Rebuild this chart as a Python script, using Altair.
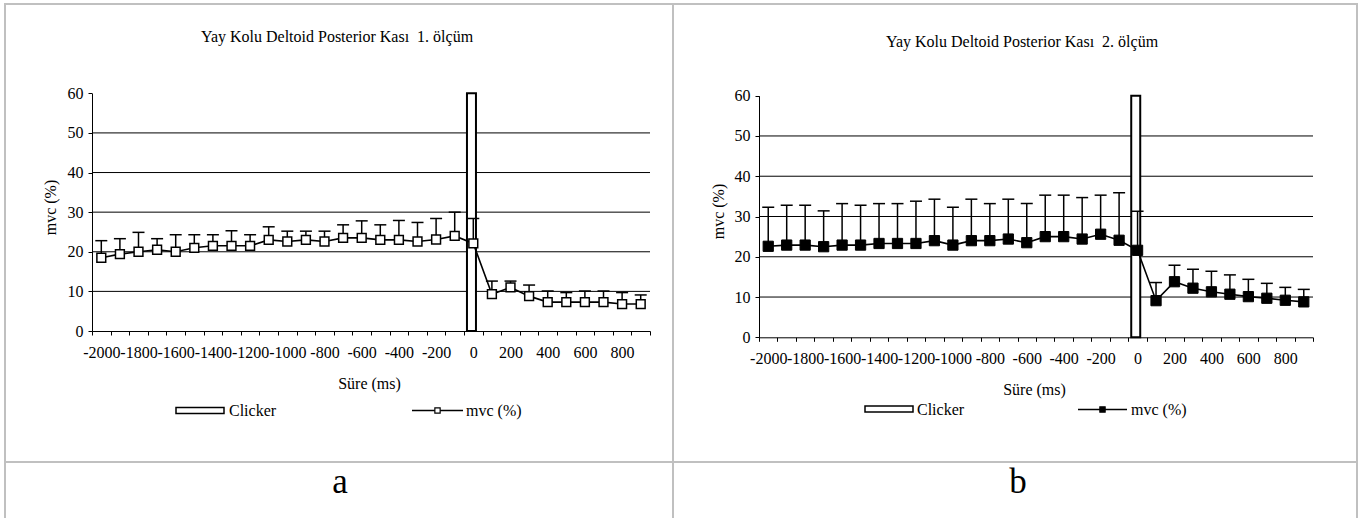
import altair as alt
import pandas as pd

# ---------------- data ----------------
times = [-2000, -1900, -1800, -1700, -1600, -1500, -1400, -1300, -1200, -1100,
         -1000, -900, -800, -700, -600, -500, -400, -300, -200, -100,
         0, 100, 200, 300, 400, 500, 600, 700, 800, 900]

a_mean = [18.5, 19.4, 20.0, 20.5, 20.0, 21.0, 21.5, 21.5, 21.5, 23.0,
          22.6, 23.0, 22.6, 23.5, 23.5, 23.0, 23.0, 22.6, 23.1, 24.0,
          22.1, 9.3, 11.0, 8.8, 7.3, 7.3, 7.3, 7.3, 6.8, 6.8]
a_upper = [22.8, 23.3, 24.9, 23.3, 24.3, 24.3, 24.3, 25.3, 24.3, 26.3,
           25.2, 25.2, 25.2, 26.8, 27.8, 26.8, 27.9, 27.4, 28.4, 30.0,
           28.4, 12.6, 12.6, 11.6, 10.1, 9.7, 10.1, 10.1, 9.7, 9.1]

b_mean = [22.6, 22.9, 22.9, 22.5, 22.9, 22.9, 23.3, 23.3, 23.3, 24.0,
          22.9, 24.0, 24.0, 24.4, 23.5, 25.0, 25.0, 24.4, 25.6, 24.1,
          21.6, 9.1, 13.8, 12.2, 11.3, 10.7, 10.1, 9.7, 9.2, 8.8]
b_upper = [32.3, 32.8, 32.8, 31.4, 33.2, 32.8, 33.2, 33.2, 33.8, 34.3,
           32.3, 34.3, 33.2, 34.3, 33.2, 35.3, 35.3, 34.7, 35.3, 35.9,
           31.3, 13.6, 17.9, 16.9, 16.4, 15.5, 14.4, 13.4, 12.4, 11.9]

clicker_time = [0]
clicker_value = [60]

x_bounds = [-2050, -1950, -1850, -1750, -1650, -1550, -1450, -1350, -1250, -1150,
            -1050, -950, -850, -750, -650, -550, -450, -350, -250, -150,
            -50, 50, 150, 250, 350, 450, 550, 650, 750, 850, 950]
x_label_values = [-2000, -1800, -1600, -1400, -1200, -1000, -800, -600, -400, -200,
                  0, 200, 400, 600, 800]
y_ticks = [0, 10, 20, 30, 40, 50, 60]
grid_values = [10, 20, 30, 40, 50]

titles = ["Yay Kolu Deltoid Posterior Kası \u00a01. ölçüm",
          "Yay Kolu Deltoid Posterior Kası \u00a02. ölçüm"]
panel_letters = ["a", "b"]

FONT = "Liberation Serif"
W, H = 1367, 518
BORDER = "#c0c0c0"
FS = 16


def blank():
    return alt.Chart(alt.InlineData(values=[{}]))


def panel(mean, upper, xr, yr, filled, x_title_x, y_title_y, y_title_x):
    df = pd.DataFrame({"t": times, "mvc": mean, "up": upper})
    xs = alt.Scale(domain=[x_bounds[0], x_bounds[-1]], range=xr, nice=False, zero=False)
    ys = alt.Scale(domain=[y_ticks[0], y_ticks[-1]], range=yr, nice=False, zero=True)
    cat_px = (xr[1] - xr[0]) / (len(x_bounds) - 1)
    arr = "[" + ",".join(str(v) for v in x_label_values) + "]"
    label_expr = f"indexof({arr}, datum.value + 50) >= 0 ? '' + (datum.value + 50) : ''"

    x_axis = alt.Axis(
        orient="bottom", offset=yr[0] - H, values=x_bounds, labelExpr=label_expr,
        labelOffset=cat_px / 2, grid=False, domainColor="black", domainWidth=1,
        tickColor="black", tickSize=4, tickWidth=1, labelColor="black", labelFont=FONT,
        labelFontSize=FS, labelPadding=9, labelFlush=False, labelOverlap=False,
        title="Süre (ms)", titleFont=FONT, titleFontSize=FS, titleFontWeight="normal",
        titleColor="black", titleX=x_title_x, titleY=52, titleBaseline="middle",
        titleAlign="center",
    )
    y_axis = alt.Axis(
        orient="left", offset=-xr[0], values=y_ticks, grid=False, domainColor="black",
        domainWidth=1, tickColor="black", tickSize=4, tickWidth=1, labelColor="black",
        labelFont=FONT, labelFontSize=FS, labelPadding=5, labelFlush=False,
        labelOverlap=False, format="d",
        title="mvc (%)", titleFont=FONT, titleFontSize=FS, titleFontWeight="normal",
        titleColor="black", titleAngle=270, titleX=y_title_x, titleY=y_title_y,
        titleBaseline="middle", titleAlign="center",
    )

    grid = alt.Chart(pd.DataFrame({"g": grid_values})).mark_rule(
        color="black", strokeWidth=1, opacity=1
    ).encode(
        y=alt.Y("g:Q", scale=ys, axis=None),
        x=alt.X(datum=x_bounds[0], scale=xs, axis=None),
        x2=alt.X2(datum=x_bounds[-1]),
    )
    bar = alt.Chart(pd.DataFrame({"t": clicker_time, "v": clicker_value})).mark_bar(
        size=9, fill="white", stroke="black", strokeWidth=2, opacity=1
    ).encode(
        x=alt.X("t:Q", scale=xs, axis=None),
        y=alt.Y("v:Q", scale=ys, axis=None),
    )
    base = alt.Chart(df)
    err = base.mark_rule(color="black", strokeWidth=1.5, opacity=1).encode(
        x=alt.X("t:Q", scale=xs, axis=None),
        y=alt.Y("mvc:Q", scale=ys, axis=None),
        y2="up:Q",
    )
    caps = base.mark_tick(orient="horizontal", size=12, thickness=1.5,
                          color="black", opacity=1).encode(
        x=alt.X("t:Q", scale=xs, axis=None),
        y=alt.Y("up:Q", scale=ys, axis=None),
    )
    line = base.mark_line(color="black", strokeWidth=1.6, opacity=1).encode(
        x=alt.X("t:Q", scale=xs, axis=x_axis),
        y=alt.Y("mvc:Q", scale=ys, axis=y_axis),
    )
    if filled:
        pts = base.mark_point(shape="square", size=105, filled=True, fill="black",
                              stroke="black", strokeWidth=1, opacity=1)
    else:
        pts = base.mark_point(shape="square", size=78, filled=True, fill="white",
                              stroke="black", strokeWidth=1.5, opacity=1)
    pts = pts.encode(
        x=alt.X("t:Q", scale=xs, axis=None),
        y=alt.Y("mvc:Q", scale=ys, axis=None),
    )
    return [grid, bar, err, caps, line, pts]


def text(s, x, y, size=FS, align="center", baseline="middle"):
    return blank().mark_text(text=s, font=FONT, fontSize=size, color="black",
                             align=align, baseline=baseline).encode(
        x=alt.value(x), y=alt.value(y))


def hrule(x1, x2, y, color=BORDER, w=2):
    return blank().mark_rule(color=color, strokeWidth=w).encode(
        x=alt.value(x1), x2=alt.value(x2), y=alt.value(y))


def vrule(x, y1, y2, color=BORDER, w=2):
    return blank().mark_rule(color=color, strokeWidth=w).encode(
        x=alt.value(x), y=alt.value(y1), y2=alt.value(y2))


def legend(rect_x, rect_y, clicker_x, line_x, line_y, mvc_x, filled):
    rect = blank().mark_rect(fill="white", stroke="black", strokeWidth=1.5).encode(
        x=alt.value(rect_x[0]), x2=alt.value(rect_x[1]),
        y=alt.value(rect_y[0]), y2=alt.value(rect_y[1]))
    ln = hrule(line_x[0], line_x[1], line_y, color="black", w=1.5)
    sq = blank().mark_point(shape="square", size=28, filled=True,
                            fill="black" if filled else "white", stroke="black",
                            strokeWidth=1.2, opacity=1).encode(
        x=alt.value((line_x[0] + line_x[1]) / 2), y=alt.value(line_y))
    t1 = text("Clicker", clicker_x, (rect_y[0] + rect_y[1]) / 2 + 0.5, align="left")
    t2 = text("mvc (%)", mvc_x, line_y + 0.5, align="left")
    return [rect, ln, sq, t1, t2]


borders = [
    hrule(4, 1358, 4),
    hrule(5, 1358, 462),
    vrule(5, 4, H),
    vrule(673, 4, H),
    vrule(1357, 4, H),
]

panel_a = panel(a_mean, a_upper, [92, 650], [331, 93.3], False, 369, 207, -42)
panel_b = panel(b_mean, b_upper, [759, 1313], [337.3, 95.7], True, 1034, 211, -41)

decor = [
    text(titles[0], 337, 42, size=16, baseline="alphabetic"),
    text(titles[1], 1022, 47, size=16, baseline="alphabetic"),
    text(panel_letters[0], 340, 493, size=35, baseline="alphabetic"),
    text(panel_letters[1], 1018, 493, size=35, baseline="alphabetic"),
]
decor += legend([176, 224], [407.5, 413.5], 229, [412, 463], 410.5, 466, False)
decor += legend([865, 913], [406, 412], 917, [1078, 1127], 409.5, 1131, True)

chart = alt.layer(*borders, *panel_a, *panel_b, *decor).resolve_scale(
    x="independent", y="independent"
).resolve_axis(
    x="independent", y="independent"
).properties(
    width=W, height=H, autosize=alt.AutoSizeParams(type="none"), padding=0,
    background="white",
).configure_view(stroke=None)

chart.save("out.html", embed_options={"renderer": "svg", "actions": False})
